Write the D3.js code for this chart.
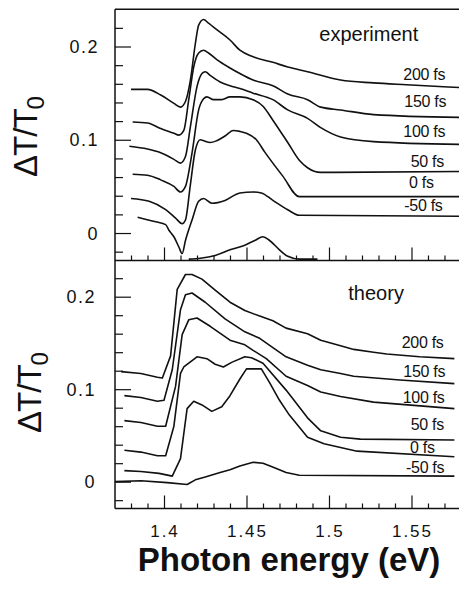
<!DOCTYPE html>
<html>
<head>
<meta charset="utf-8">
<script src="https://cdn.jsdelivr.net/npm/d3@7"></script>
<style>
	body { margin: 0; background: #fff; }
	svg { display: block; font-family: 'Liberation Sans', Arial, sans-serif; }
</style>
</head>
<body>
<svg id="chart" width="459" height="592"></svg>
<script>
const svg = d3.select('#chart')
const ink = '#111'

// delay of each trace, top to bottom
const delays = ['200 fs', '150 fs', '100 fs', '50 fs', '0 fs', '-50 fs']

// measured traces, [photon energy (eV), dT/T0 incl. offset]
const exp200 = [[1.380,0.154],[1.390,0.154],[1.398,0.148],[1.406,0.139],[1.410,0.135],[1.413,0.141],[1.416,0.164],[1.419,0.203],[1.421,0.223],[1.424,0.229],[1.427,0.225],[1.432,0.218],[1.440,0.207],[1.446,0.196],[1.454,0.189],[1.466,0.183],[1.475,0.178],[1.487,0.173],[1.507,0.164],[1.527,0.161],[1.547,0.159],[1.579,0.156]]
const exp150 = [[1.381,0.119],[1.390,0.118],[1.398,0.112],[1.406,0.107],[1.409,0.105],[1.412,0.110],[1.415,0.143],[1.418,0.178],[1.421,0.193],[1.424,0.196],[1.427,0.193],[1.432,0.186],[1.440,0.177],[1.446,0.171],[1.454,0.164],[1.466,0.158],[1.475,0.149],[1.487,0.143],[1.495,0.135],[1.507,0.132],[1.527,0.127],[1.579,0.124]]
const exp100 = [[1.379,0.093],[1.390,0.090],[1.398,0.086],[1.406,0.079],[1.410,0.075],[1.413,0.082],[1.416,0.114],[1.420,0.157],[1.423,0.171],[1.425,0.173],[1.428,0.169],[1.434,0.162],[1.440,0.158],[1.446,0.155],[1.454,0.150],[1.466,0.143],[1.475,0.132],[1.487,0.123],[1.495,0.113],[1.507,0.103],[1.527,0.098],[1.579,0.095]]
const exp50 = [[1.381,0.063],[1.390,0.062],[1.398,0.057],[1.406,0.050],[1.410,0.044],[1.413,0.050],[1.417,0.086],[1.421,0.132],[1.424,0.144],[1.426,0.146],[1.430,0.143],[1.435,0.143],[1.440,0.146],[1.446,0.146],[1.454,0.143],[1.460,0.136],[1.466,0.121],[1.475,0.097],[1.482,0.078],[1.487,0.070],[1.495,0.065],[1.579,0.066]]
const exp0 = [[1.380,0.037],[1.391,0.034],[1.401,0.025],[1.407,0.016],[1.411,0.010],[1.413,0.014],[1.416,0.052],[1.419,0.089],[1.422,0.100],[1.424,0.099],[1.428,0.097],[1.432,0.099],[1.437,0.104],[1.442,0.110],[1.446,0.109],[1.450,0.107],[1.456,0.100],[1.461,0.087],[1.472,0.061],[1.482,0.039],[1.495,0.039],[1.579,0.039]]
const expM50 = [[1.384,0.017],[1.395,0.012],[1.401,0.009],[1.403,0.003],[1.406,-0.004],[1.409,-0.015],[1.411,-0.022],[1.413,-0.008],[1.417,0.014],[1.421,0.034],[1.424,0.037],[1.429,0.032],[1.437,0.035],[1.446,0.043],[1.454,0.044],[1.459,0.043],[1.466,0.035],[1.475,0.025],[1.482,0.019],[1.579,0.018]]
// pump spectrum under the measured traces
const expPump = [[1.415,-0.028],[1.422,-0.027],[1.431,-0.024],[1.440,-0.018],[1.449,-0.013],[1.455,-0.008],[1.460,-0.004],[1.464,-0.008],[1.470,-0.018],[1.475,-0.025],[1.482,-0.028],[1.493,-0.028]]

// calculated traces
const theo200 = [[1.374,0.119],[1.386,0.117],[1.396,0.113],[1.399,0.112],[1.404,0.136],[1.408,0.208],[1.413,0.224],[1.417,0.224],[1.423,0.219],[1.431,0.207],[1.440,0.194],[1.449,0.185],[1.458,0.179],[1.466,0.174],[1.474,0.166],[1.487,0.160],[1.495,0.153],[1.507,0.147],[1.515,0.143],[1.527,0.140],[1.535,0.138],[1.555,0.135],[1.576,0.133]]
const theo150 = [[1.376,0.093],[1.386,0.091],[1.396,0.087],[1.400,0.088],[1.405,0.121],[1.410,0.186],[1.413,0.202],[1.417,0.204],[1.425,0.194],[1.437,0.176],[1.449,0.162],[1.458,0.155],[1.466,0.145],[1.474,0.135],[1.487,0.126],[1.495,0.121],[1.507,0.117],[1.515,0.114],[1.543,0.110],[1.576,0.106]]
const theo100 = [[1.376,0.066],[1.386,0.064],[1.396,0.060],[1.401,0.060],[1.407,0.103],[1.411,0.159],[1.415,0.175],[1.420,0.177],[1.428,0.168],[1.440,0.153],[1.449,0.148],[1.454,0.142],[1.462,0.133],[1.474,0.114],[1.487,0.104],[1.495,0.097],[1.507,0.092],[1.527,0.086],[1.576,0.079]]
const theo50 = [[1.376,0.034],[1.386,0.032],[1.396,0.028],[1.401,0.028],[1.406,0.060],[1.410,0.117],[1.412,0.124],[1.420,0.135],[1.426,0.133],[1.431,0.127],[1.436,0.124],[1.441,0.129],[1.449,0.135],[1.453,0.134],[1.460,0.128],[1.474,0.099],[1.487,0.069],[1.495,0.055],[1.507,0.048],[1.519,0.046],[1.576,0.045]]
const theo0 = [[1.376,0.012],[1.386,0.011],[1.397,0.009],[1.405,0.006],[1.410,0.025],[1.414,0.079],[1.418,0.087],[1.423,0.083],[1.429,0.076],[1.435,0.081],[1.440,0.093],[1.446,0.111],[1.450,0.122],[1.459,0.122],[1.464,0.107],[1.470,0.088],[1.476,0.072],[1.487,0.048],[1.497,0.041],[1.517,0.033],[1.576,0.027]]
const theoM50 = [[1.370,0.000],[1.386,0.001],[1.402,-0.001],[1.414,-0.003],[1.419,0.002],[1.425,0.005],[1.434,0.010],[1.440,0.013],[1.446,0.017],[1.454,0.021],[1.460,0.020],[1.467,0.015],[1.474,0.010],[1.482,0.007],[1.576,0.006]]

const xTickValues = [1.4, 1.45, 1.5, 1.55]
const yTickValues = [0, 0.1, 0.2]

// layout
const plotLeft = 115
const plotRight = 459
const plotTop = 9.2
const plotMid = 260.5
const plotBottom = 508.5

const x = d3.scaleLinear().domain([1.3703, 1.5788]).range([plotLeft, plotRight])
const yTop = d3.scaleLinear().domain([-0.03, 0.24]).range([261, plotTop])
const yBot = d3.scaleLinear().domain([-0.029, 0.24]).range([plotBottom, 259.7])

const minorX = d3.range(138, 158).map(i => i / 100)
const minorY = d3.range(-1, 12).map(i => i * 0.02)

// one panel: traces, ticks, delay labels, title
const drawPanel = (cfg) => {
	const y = cfg.y
	const g = svg.append('g')

	g.append('defs').append('clipPath').attr('id', cfg.id)
		.append('rect').attr('x', plotLeft).attr('y', cfg.y0).attr('width', plotRight - plotLeft).attr('height', cfg.y1 - cfg.y0)

	const line = d3.line()
		.x(d => x(d[0]))
		.y(d => y(d[1]))
		.curve(cfg.curve)

	g.append('g')
		.attr('clip-path', `url(#${cfg.id})`)
		.selectAll('path')
		.data(cfg.series)
		.enter()
		.append('path')
			.attr('d', line)
			.attr('fill', 'none')
			.attr('stroke', ink)
			.attr('stroke-width', 1.6)
			.attr('stroke-linejoin', 'round')

	// y ticks point into the plot
	g.append('g')
		.attr('transform', `translate(${plotLeft}, 0)`)
		.call(d3.axisRight(y).tickValues(minorY.filter(v => Math.abs(v * 10 - Math.round(v * 10)) > 1e-6)).tickSize(8).tickSizeOuter(0).tickFormat(''))
	g.append('g')
		.attr('transform', `translate(${plotLeft}, 0)`)
		.call(d3.axisRight(y).tickValues(yTickValues).tickSize(16).tickSizeOuter(0).tickFormat(''))

	// x ticks on the lower edge, pointing up
	g.append('g')
		.attr('transform', `translate(0, ${cfg.y1})`)
		.call(d3.axisTop(x).tickValues(minorX.filter(v => Math.abs(v * 20 - Math.round(v * 20)) > 1e-6)).tickSize(5).tickSizeOuter(0).tickFormat(''))
	g.append('g')
		.attr('transform', `translate(0, ${cfg.y1})`)
		.call(d3.axisTop(x).tickValues(xTickValues).tickSize(13).tickSizeOuter(0).tickFormat(''))

	g.selectAll('.domain').remove()
	g.selectAll('.tick line').attr('stroke', ink).attr('stroke-width', 1.2)

	// y tick labels
	g.selectAll('text.ylab')
		.data(yTickValues)
		.enter()
		.append('text')
			.attr('class', 'ylab')
			.attr('x', cfg.labelRight)
			.attr('y', d => y(d))
			.attr('dy', '0.36em')
			.attr('text-anchor', 'end')
			.style('font-size', '18px')
			.style('letter-spacing', '1.5px')
			.attr('fill', ink)
			.text(d => d === 0 ? '0' : d3.format('.1f')(d))

	// delay labels next to the right-hand ends
	g.selectAll('text.delay')
		.data(delays)
		.enter()
		.append('text')
			.attr('class', 'delay')
			.attr('x', (d, i) => cfg.delayPos[i][0])
			.attr('y', (d, i) => cfg.delayPos[i][1])
			.style('font-size', '16px')
			.style('letter-spacing', '-0.3px')
			.attr('fill', ink)
			.text(d => d)

	g.append('text')
		.attr('x', cfg.titlePos[0])
		.attr('y', cfg.titlePos[1])
		.style('font-size', '20px')
		.attr('fill', ink)
		.text(cfg.title)

	// rotated axis title with subscript
	const t = g.append('text')
		.attr('transform', `translate(${cfg.axisTitle[0]}, ${cfg.axisTitle[1]}) rotate(-90)`)
		.attr('text-anchor', 'middle')
		.style('font-size', '33px')
		.style('letter-spacing', '-1px')
		.attr('fill', ink)
	t.append('tspan').text('ΔT/T')
	t.append('tspan').attr('dy', '0.28em').style('font-size', '24px').text('0')
}

drawPanel({
	id: 'clipTop', y: yTop, y0: plotTop, y1: plotMid,
	series: [exp200, exp150, exp100, exp50, exp0, expM50, expPump],
	curve: d3.curveMonotoneX,
	labelRight: 99,
	delayPos: [[403.3, 80], [404.3, 107.3], [403.3, 137.3], [410.7, 166.7], [409, 188.3], [404.3, 210.7]],
	title: 'experiment', titlePos: [319.3, 41],
	axisTitle: [37, 137]
})

drawPanel({
	id: 'clipBot', y: yBot, y0: plotMid, y1: plotBottom,
	series: [theo200, theo150, theo100, theo50, theo0, theoM50],
	curve: d3.curveLinear,
	labelRight: 96,
	delayPos: [[401.7, 348.3], [403.3, 376.7], [402.7, 402.5], [410.7, 430], [410, 452.5], [406, 472.8]],
	title: 'theory', titlePos: [348.3, 300],
	axisTitle: [41, 393]
})

// frame: left edge, top, shared middle edge, bottom
const frame = svg.append('g').attr('stroke', ink).attr('stroke-width', 1.5)
frame.append('line').attr('x1', plotLeft).attr('x2', plotLeft).attr('y1', plotTop).attr('y2', plotBottom)
frame.append('line').attr('x1', plotLeft).attr('x2', plotRight).attr('y1', plotTop).attr('y2', plotTop)
frame.append('line').attr('x1', plotLeft).attr('x2', plotRight).attr('y1', plotMid).attr('y2', plotMid)
frame.append('line').attr('x1', plotLeft).attr('x2', plotRight).attr('y1', plotBottom).attr('y2', plotBottom)

// energy tick labels under the lower panel
svg.selectAll('text.xlab')
	.data(xTickValues)
	.enter()
	.append('text')
		.attr('class', 'xlab')
		.attr('x', d => x(d) + 1)
		.attr('y', 537)
		.attr('text-anchor', 'middle')
		.style('font-size', '17px')
		.style('letter-spacing', '2px')
		.attr('fill', ink)
		.text(d => d)

svg.append('text')
	.attr('x', 289)
	.attr('y', 570.5)
	.attr('text-anchor', 'middle')
	.style('font-size', '33px')
	.style('font-weight', 'bold')
	.attr('fill', ink)
	.text('Photon energy (eV)')
</script>
</body>
</html>
